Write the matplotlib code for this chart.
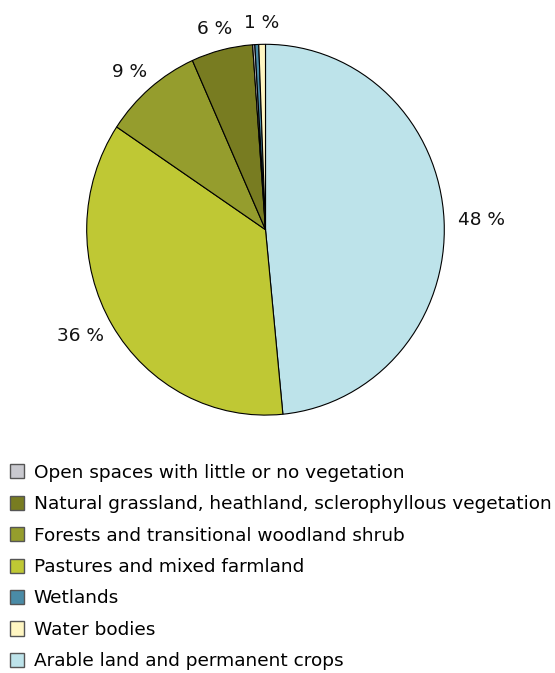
import numpy as np
import matplotlib.pyplot as plt
from matplotlib.patches import Patch

# land cover shares, in drawing order (clockwise from 12 o'clock)
classes = ['Arable land and permanent crops', 'Pastures and mixed farmland',
           'Forests and transitional woodland shrub',
           'Natural grassland, heathland, sclerophyllous vegetation',
           'Open spaces with little or no vegetation', 'Wetlands', 'Water bodies']
shares = [48.45, 35.9, 8.95, 5.55, 0.2, 0.35, 0.6]
colors = ['#bde3ea', '#bfc834', '#959d2d', '#787c21', '#c9c9cf', '#4a8ba6', '#fff6c2']

# legend order
legend_order = ['Open spaces with little or no vegetation',
                'Natural grassland, heathland, sclerophyllous vegetation',
                'Forests and transitional woodland shrub',
                'Pastures and mixed farmland', 'Wetlands', 'Water bodies',
                'Arable land and permanent crops']

W, H = 555, 673
fig = plt.figure(figsize=(W / 100, H / 100), dpi=100)
cx, cy, rx, ry = 265.5, 229.7, 178.8, 185.4
ax = fig.add_axes([(cx - rx) / W, (H - cy - ry) / H, 2 * rx / W, 2 * ry / H])

wedges, _ = ax.pie(shares, colors=colors, startangle=90, counterclock=False,
                   wedgeprops=dict(edgecolor='black', linewidth=0.8))
ax.set_aspect('auto')
ax.set_xlim(-1, 1)
ax.set_ylim(-1, 1)

fs = 13.3
renderer = fig.canvas.get_renderer()
gap = 14  # px between rim and label box
total = sum(shares)
cum = 0
for v in shares:
    mid = (cum + v / 2) / total * 2 * np.pi
    cum += v
    pct = round(v / total * 100)
    if pct < 1:
        continue
    sx, cyy = np.sin(mid), np.cos(mid)
    t = ax.annotate(f'{pct} %', xy=(sx, cyy), xytext=(0, 0),
                    textcoords='offset pixels', ha='center', va='center',
                    fontsize=fs, color='#111111')
    bb = t.get_window_extent(renderer)
    hw, hh = bb.width / 2, bb.height / 2 * 0.8
    t.set_position((sx * (gap + hw), cyy * (gap + hh)))

handles = [Patch(facecolor=colors[classes.index(n)], edgecolor='#555555',
                 linewidth=1.0) for n in legend_order]
fig.legend(handles, legend_order, loc='upper left',
           bbox_to_anchor=(4 / W, 1 - 458 / H), frameon=False, fontsize=fs,
           handlelength=0.8, handleheight=0.8, handletextpad=0.5,
           labelspacing=0.73, borderaxespad=0, borderpad=0.3)

fig.savefig('out.png', dpi=100)
